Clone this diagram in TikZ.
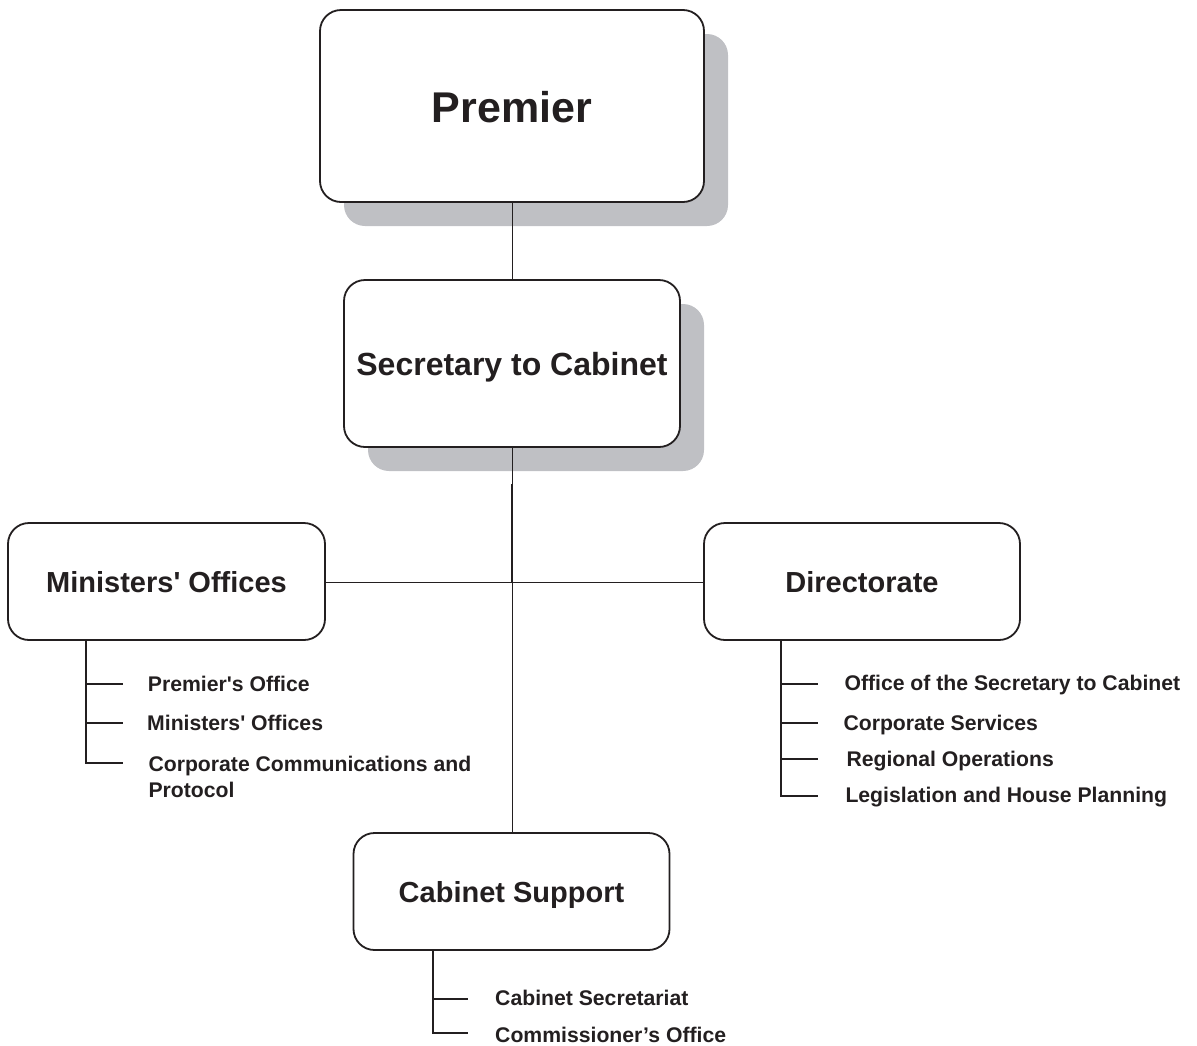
\documentclass[tikz,border=0pt]{standalone}
\usepackage{fontspec}
\setmainfont{Liberation Sans}
\usetikzlibrary{shadows}
\definecolor{ink}{RGB}{35,31,32}
\definecolor{shadowgray}{RGB}{191,192,196}
\tikzset{
  box/.style={draw=ink, line width=1.8pt, fill=white, rounded corners=21pt,
    text=ink, font=\bfseries\fontsize{29}{34}\selectfont, text height=21pt, text depth=0pt,
    inner sep=0pt, align=center},
  shadowbox/.style={box, drop shadow={shadow xshift=24pt, shadow yshift=-24pt, fill=shadowgray, opacity=1, draw=none}},
  conn/.style={draw=ink, line width=0.9pt},
  bracket/.style={draw=ink, line width=1.7pt},
  item/.style={anchor=base west, inner sep=0pt, text=ink, font=\bfseries\fontsize{21.2}{25}\selectfont},
}
\begin{document}
\begin{tikzpicture}[x=1pt, y=-1pt]
\useasboundingbox (0,0) rectangle (1197,1045);

% main boxes
\node[shadowbox, minimum width=384pt, minimum height=192pt, font=\bfseries\fontsize{43}{50}\selectfont, text height=33pt] (pr) at (512,106) {Premier};
\node[shadowbox, minimum width=336pt, minimum height=167pt, font=\bfseries\fontsize{32}{38}\selectfont, text height=23pt] (sc) at (512,363.5) {Secretary to Cabinet};
\node[box, minimum width=317pt, minimum height=117pt] (mo) at (166.5,581.5) {Ministers\textquotesingle{} Offices};
\node[box, minimum width=316pt, minimum height=117pt] (di) at (862,581.5) {Directorate};
\node[box, minimum width=316pt, minimum height=117pt] (cs) at (511.5,891.5) {Cabinet Support};

% main connectors
\coordinate (mid) at (512,484);
\coordinate (jn) at (512,582);
\draw[conn] (pr.south) -- (sc.north);
\draw[conn] (sc.south) -- (mid);
\draw[bracket] (mid) -- (jn);
\draw[conn] (mo.east |- jn) -- (di.west |- jn);
\draw[conn] (jn) -- (jn |- cs.north);

% Ministers' Offices list
\coordinate (mb) at (86,763);
\coordinate (mt1) at (122.7,684);
\coordinate (mt2) at (122.7,723);
\coordinate (mt3) at (122.7,763);
\draw[bracket] (mo.south -| mb) -- (mb) -- (mt3);
\draw[bracket] (mb |- mt1) -- (mt1);
\draw[bracket] (mb |- mt2) -- (mt2);
\node[item] (m1) at (147.7,691) {Premier\textquotesingle{}s Office};
\node[item] (m2) at (147,730.5) {Ministers\textquotesingle{} Offices};
\node[item] (m3) at (148.3,771) {Corporate Communications and};
\node[item] (m4) at (148.3,797) {Protocol};

% Directorate list
\coordinate (db) at (780.7,796);
\coordinate (dt1) at (818.3,684);
\coordinate (dt2) at (818.3,723.3);
\coordinate (dt3) at (818.3,759.3);
\coordinate (dt4) at (818.3,796);
\draw[bracket] (di.south -| db) -- (db) -- (dt4);
\draw[bracket] (db |- dt1) -- (dt1);
\draw[bracket] (db |- dt2) -- (dt2);
\draw[bracket] (db |- dt3) -- (dt3);
\node[item] (d1) at (844.3,690.3) {Office of the Secretary to Cabinet};
\node[item] (d2) at (843.3,730) {Corporate Services};
\node[item] (d3) at (846.3,766) {Regional Operations};
\node[item] (d4) at (845.3,802.3) {Legislation and House Planning};

% Cabinet Support list
\coordinate (cb) at (433.3,1033.3);
\coordinate (ct1) at (468.3,999);
\coordinate (ct2) at (468.3,1033.3);
\draw[bracket] (cs.south -| cb) -- (cb) -- (ct2);
\draw[bracket] (cb |- ct1) -- (ct1);
\node[item] (c1) at (495,1005.7) {Cabinet Secretariat};
\node[item] (c2) at (495,1042.3) {Commissioner’s Office};
\end{tikzpicture}
\end{document}
